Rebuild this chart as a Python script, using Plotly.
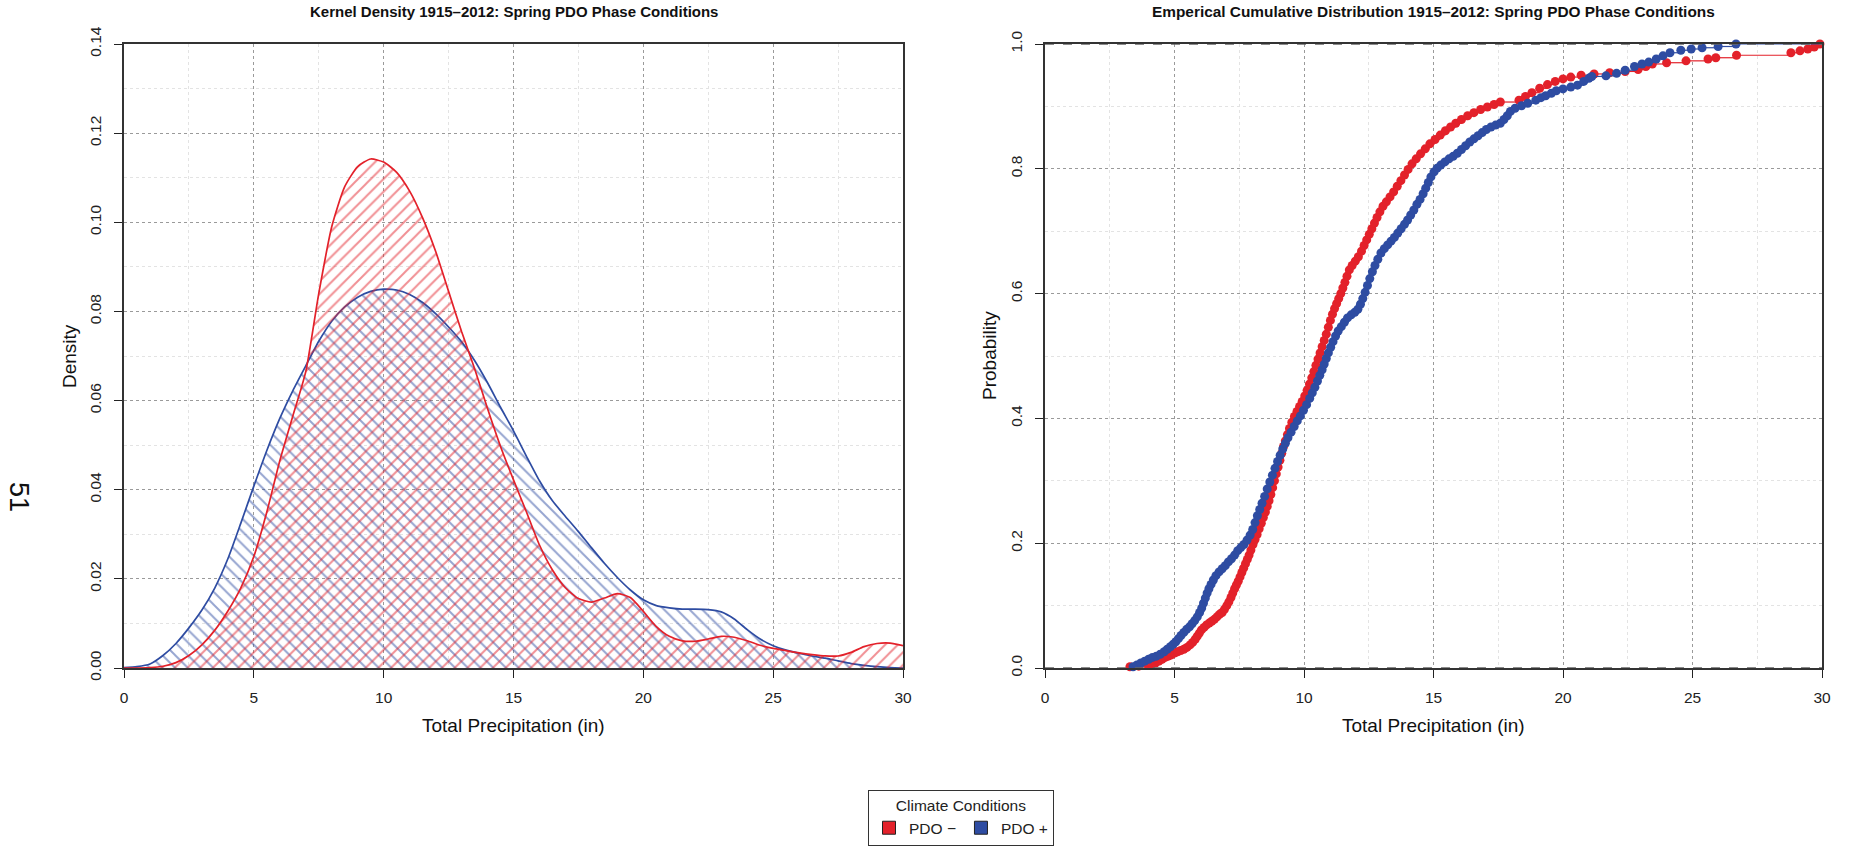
import plotly.graph_objects as go

# ---------------- data ----------------
# Kernel density of total spring precipitation (in)
dens_x = [0, 0.5, 1, 1.5, 2, 2.5, 3, 3.5, 4, 4.5, 5, 5.5, 6, 6.5, 7, 7.5, 8, 8.5, 9, 9.5,
          10, 10.5, 11, 11.5, 12, 12.5, 13, 13.5, 14, 14.5, 15, 15.5, 16, 16.5, 17, 17.5,
          18, 18.5, 19, 19.5, 20, 20.5, 21, 21.5, 22, 22.5, 23, 23.5, 24, 24.5, 25, 25.5,
          26, 26.5, 27, 27.5, 28, 28.5, 29, 29.5, 30]
dens_neg = [0.0, 0.0, 0.0001, 0.0004, 0.0012, 0.0028, 0.0052, 0.0085, 0.0128, 0.0180,
            0.0250, 0.0350, 0.0465, 0.0565, 0.0665, 0.0840, 0.0990, 0.1080, 0.1125, 0.1142,
            0.1135, 0.1112, 0.1070, 0.1010, 0.0935, 0.0845, 0.0755, 0.0672, 0.0582, 0.0497,
            0.0422, 0.0350, 0.0276, 0.0220, 0.0180, 0.0156, 0.0148, 0.0157, 0.0167, 0.0158,
            0.0127, 0.0093, 0.0071, 0.0061, 0.0060, 0.0065, 0.0071, 0.0069, 0.0061, 0.0051,
            0.0044, 0.0039, 0.0034, 0.0030, 0.0027, 0.0027, 0.0035, 0.0048, 0.0055, 0.0056,
            0.0050]
dens_pos = [0.0001, 0.0003, 0.0009, 0.0028, 0.0055, 0.0090, 0.0130, 0.0180, 0.0245, 0.0325,
            0.0408, 0.0488, 0.0560, 0.0622, 0.0678, 0.0733, 0.0778, 0.0810, 0.0832, 0.0845,
            0.0850, 0.0848, 0.0838, 0.0820, 0.0795, 0.0765, 0.0732, 0.0690, 0.0640, 0.0585,
            0.0532, 0.0475, 0.0420, 0.0375, 0.0340, 0.0306, 0.0270, 0.0235, 0.0203, 0.0175,
            0.0153, 0.0140, 0.0135, 0.0132, 0.0132, 0.0131, 0.0126, 0.0110, 0.0086, 0.0065,
            0.0050, 0.0040, 0.0033, 0.0027, 0.0022, 0.0016, 0.0010, 0.0006, 0.0003, 0.0001,
            0.0]

# Empirical CDF points (precipitation, cumulative probability)
ecdf_neg = [
    (3.28, 0.002), (3.62, 0.003), (3.98, 0.004), (4.12, 0.006), (4.26, 0.008), (4.40, 0.011),
    (4.52, 0.014), (4.64, 0.017), (4.76, 0.019), (4.88, 0.021), (5.00, 0.024), (5.12, 0.026),
    (5.24, 0.028), (5.36, 0.030), (5.48, 0.033), (5.60, 0.037), (5.70, 0.041), (5.80, 0.046),
    (5.88, 0.051), (5.96, 0.056), (6.04, 0.061), (6.14, 0.065), (6.24, 0.069), (6.34, 0.072),
    (6.44, 0.075), (6.54, 0.078), (6.64, 0.082), (6.74, 0.086), (6.84, 0.089), (6.93, 0.094),
    (7.02, 0.100), (7.10, 0.106), (7.18, 0.113), (7.25, 0.120), (7.32, 0.127), (7.39, 0.133),
    (7.46, 0.139), (7.53, 0.146), (7.60, 0.153), (7.67, 0.160), (7.74, 0.167), (7.81, 0.174),
    (7.88, 0.181), (7.95, 0.189), (8.03, 0.198), (8.11, 0.206), (8.19, 0.214), (8.27, 0.223),
    (8.35, 0.232), (8.43, 0.241), (8.51, 0.250), (8.58, 0.259), (8.65, 0.268), (8.72, 0.278),
    (8.79, 0.289), (8.86, 0.300), (8.93, 0.311), (9.00, 0.322), (9.07, 0.333), (9.14, 0.344),
    (9.21, 0.355), (9.28, 0.364), (9.36, 0.374), (9.44, 0.384), (9.53, 0.394), (9.63, 0.403),
    (9.73, 0.411), (9.83, 0.419), (9.93, 0.427), (10.03, 0.436), (10.12, 0.445), (10.21, 0.455),
    (10.30, 0.465), (10.38, 0.475), (10.46, 0.485), (10.54, 0.495), (10.62, 0.505), (10.70, 0.515),
    (10.78, 0.525), (10.86, 0.535), (10.94, 0.546), (11.02, 0.557), (11.10, 0.567), (11.18, 0.576),
    (11.26, 0.584), (11.34, 0.592), (11.42, 0.600), (11.50, 0.609), (11.58, 0.618), (11.66, 0.628),
    (11.75, 0.638), (11.86, 0.645), (11.98, 0.652), (12.10, 0.659), (12.22, 0.668), (12.32, 0.677),
    (12.42, 0.686), (12.52, 0.695), (12.62, 0.704), (12.72, 0.713), (12.82, 0.722), (12.93, 0.731),
    (13.05, 0.740), (13.18, 0.747), (13.32, 0.755), (13.46, 0.763), (13.60, 0.772), (13.74, 0.781),
    (13.88, 0.790), (14.02, 0.799), (14.17, 0.808), (14.33, 0.816), (14.50, 0.824), (14.68, 0.832),
    (14.86, 0.840), (15.06, 0.847), (15.26, 0.854), (15.46, 0.861), (15.66, 0.867), (15.86, 0.873),
    (16.08, 0.879), (16.32, 0.885), (16.56, 0.890), (16.82, 0.895), (17.08, 0.899), (17.34, 0.903),
    (17.58, 0.907), (18.30, 0.910), (18.55, 0.916), (18.80, 0.922), (19.10, 0.929), (19.40, 0.935),
    (19.70, 0.940), (20.00, 0.944), (20.30, 0.947), (20.70, 0.950), (21.20, 0.952), (21.80, 0.954),
    (22.40, 0.956), (22.90, 0.959), (23.20, 0.964), (23.45, 0.968), (24.00, 0.970), (24.75, 0.973),
    (25.60, 0.976), (25.90, 0.978), (26.70, 0.982), (28.80, 0.986), (29.15, 0.989), (29.45, 0.992),
    (29.70, 0.995), (29.92, 1.000),
]
ecdf_pos = [
    (3.40, 0.002), (3.55, 0.005), (3.70, 0.008), (3.85, 0.011), (4.00, 0.014), (4.15, 0.017),
    (4.30, 0.019), (4.45, 0.022), (4.60, 0.026), (4.72, 0.030), (4.84, 0.034), (4.95, 0.038),
    (5.05, 0.042), (5.15, 0.047), (5.25, 0.052), (5.36, 0.057), (5.47, 0.062), (5.58, 0.066),
    (5.68, 0.071), (5.78, 0.076), (5.88, 0.082), (5.97, 0.089), (6.05, 0.096), (6.12, 0.104),
    (6.19, 0.112), (6.26, 0.120), (6.33, 0.127), (6.41, 0.134), (6.50, 0.141), (6.60, 0.148),
    (6.72, 0.154), (6.84, 0.159), (6.96, 0.164), (7.08, 0.170), (7.20, 0.175), (7.32, 0.181),
    (7.44, 0.188), (7.56, 0.193), (7.68, 0.198), (7.80, 0.205), (7.92, 0.213), (8.02, 0.222),
    (8.11, 0.233), (8.20, 0.244), (8.29, 0.254), (8.38, 0.264), (8.48, 0.275), (8.58, 0.287),
    (8.68, 0.298), (8.78, 0.309), (8.88, 0.320), (8.98, 0.331), (9.08, 0.341), (9.18, 0.351),
    (9.28, 0.360), (9.38, 0.369), (9.50, 0.378), (9.62, 0.387), (9.74, 0.396), (9.86, 0.404),
    (9.98, 0.413), (10.10, 0.422), (10.22, 0.432), (10.32, 0.441), (10.42, 0.450), (10.52, 0.460),
    (10.61, 0.469), (10.70, 0.478), (10.78, 0.487), (10.86, 0.496), (10.94, 0.505), (11.03, 0.514),
    (11.12, 0.523), (11.22, 0.532), (11.32, 0.540), (11.44, 0.547), (11.56, 0.554), (11.68, 0.561),
    (11.82, 0.566), (11.96, 0.570), (12.08, 0.575), (12.18, 0.583), (12.27, 0.592), (12.36, 0.602),
    (12.45, 0.613), (12.54, 0.624), (12.64, 0.635), (12.74, 0.645), (12.85, 0.655), (12.97, 0.665),
    (13.10, 0.672), (13.23, 0.678), (13.36, 0.684), (13.49, 0.690), (13.62, 0.697), (13.75, 0.704),
    (13.88, 0.711), (14.00, 0.718), (14.12, 0.726), (14.24, 0.734), (14.36, 0.743), (14.48, 0.751),
    (14.60, 0.760), (14.70, 0.769), (14.80, 0.778), (14.90, 0.787), (15.02, 0.795), (15.14, 0.801),
    (15.28, 0.806), (15.44, 0.811), (15.60, 0.816), (15.76, 0.820), (15.92, 0.825), (16.08, 0.831),
    (16.24, 0.837), (16.40, 0.843), (16.56, 0.848), (16.72, 0.853), (16.88, 0.858), (17.04, 0.863),
    (17.22, 0.867), (17.40, 0.870), (17.58, 0.873), (17.72, 0.879), (17.85, 0.885), (17.97, 0.892),
    (18.15, 0.897), (18.40, 0.901), (18.64, 0.905), (18.95, 0.910), (19.15, 0.914), (19.33, 0.917),
    (19.55, 0.921), (19.74, 0.925), (20.00, 0.928), (20.30, 0.931), (20.56, 0.934), (20.80, 0.940),
    (21.00, 0.945), (21.11, 0.948), (21.66, 0.949), (22.07, 0.953), (22.40, 0.958), (22.76, 0.964),
    (23.05, 0.968), (23.31, 0.971), (23.60, 0.976), (23.86, 0.981), (24.13, 0.986), (24.55, 0.990),
    (24.95, 0.992), (25.37, 0.994), (25.99, 0.996), (26.68, 1.000),
]

series_names = ["PDO \u2212", "PDO +"]
x_ticks = [0, 5, 10, 15, 20, 25, 30]

# ---------------- styling ----------------
RED = "#E3212A"
BLUE = "#2E4CA2"
FONT = "Liberation Sans, Arial, Helvetica, sans-serif"
W, H = 1857, 847

# plot boxes in pixels (left, right, top, bottom)
LEFT_BOX = (124, 903, 44, 668)
RIGHT_BOX = (1045, 1822, 44, 668)


def xdom(box):
    return [box[0] / W, box[1] / W]


def ydom(box):
    return [1 - box[3] / H, 1 - box[2] / H]


fig = go.Figure()

# ---- kernel density panel ----
fig.add_trace(go.Scatter(
    x=dens_x, y=dens_pos, mode="lines", xaxis="x", yaxis="y",
    line=dict(color=BLUE, width=1.7, shape="spline", smoothing=0.6),
    fill="tozeroy", fillcolor="rgba(0,0,0,0)",
    fillpattern=dict(shape="\\", fgcolor=BLUE, bgcolor="rgba(0,0,0,0)", size=9, solidity=0.22),
    showlegend=False, hoverinfo="skip",
))
fig.add_trace(go.Scatter(
    x=dens_x, y=dens_neg, mode="lines", xaxis="x", yaxis="y",
    line=dict(color=RED, width=1.7, shape="spline", smoothing=0.6),
    fill="tozeroy", fillcolor="rgba(0,0,0,0)",
    fillpattern=dict(shape="/", fgcolor=RED, bgcolor="rgba(0,0,0,0)", size=9, solidity=0.22),
    showlegend=False, hoverinfo="skip",
))


# ---- ECDF panel ----
def ecdf_traces(points, color):
    xs = [p[0] for p in points]
    ps = [p[1] for p in points]
    # horizontal step segments (no verticals)
    sx, sy = [], []
    for i in range(len(xs) - 1):
        sx += [xs[i], xs[i + 1], None]
        sy += [ps[i], ps[i], None]
    sx += [xs[-1], 30, None]
    sy += [ps[-1], ps[-1], None]
    seg = go.Scatter(x=sx, y=sy, mode="lines", xaxis="x2", yaxis="y2",
                     line=dict(color=color, width=1.2), showlegend=False,
                     hoverinfo="skip", cliponaxis=False)
    pts = go.Scatter(x=xs, y=ps, mode="markers", xaxis="x2", yaxis="y2",
                     marker=dict(color=color, size=9, line=dict(width=0)),
                     showlegend=False, cliponaxis=False)
    return [seg, pts]


for tr in ecdf_traces(ecdf_neg, RED) + ecdf_traces(ecdf_pos, BLUE):
    fig.add_trace(tr)

# ---- legend entries ----
for name, col in zip(series_names, [RED, BLUE]):
    fig.add_trace(go.Scatter(
        x=[None], y=[None], mode="markers", name=name, xaxis="x2", yaxis="y2",
        marker=dict(symbol="square", size=13, color=col, line=dict(color="#222", width=1)),
        showlegend=True,
    ))

axis_common = dict(
    showline=True, linecolor="#333", linewidth=1.5, mirror=True,
    ticks="outside", ticklen=8, tickcolor="#222", tickwidth=1,
    showgrid=True, gridcolor="#9a9a9a", griddash="dot", gridwidth=1,
    zeroline=False, tickfont=dict(family=FONT, size=15.5, color="#222"),
    ticklabelstandoff=7, fixedrange=True,
)
minor_x = dict(dtick=2.5, showgrid=True, gridcolor="#e3e3e3", griddash="dot", gridwidth=1)

fig.update_layout(
    width=W, height=H,
    margin=dict(l=0, r=0, t=0, b=0, autoexpand=False),
    paper_bgcolor="white", plot_bgcolor="white",
    font=dict(family=FONT, color="#222"),
    xaxis=dict(domain=xdom(LEFT_BOX), range=[0, 30], tickvals=x_ticks, anchor="y",
               minor=minor_x, **axis_common),
    yaxis=dict(domain=ydom(LEFT_BOX), range=[0, 0.14], dtick=0.02, tick0=0, tickformat=".2f",
               tickangle=-90, anchor="x",
               minor=dict(dtick=0.01, showgrid=True, gridcolor="#e3e3e3", griddash="dot"),
               **axis_common),
    xaxis2=dict(domain=xdom(RIGHT_BOX), range=[0, 30], tickvals=x_ticks, anchor="y2",
                minor=minor_x, **axis_common),
    yaxis2=dict(domain=ydom(RIGHT_BOX), range=[0, 1], dtick=0.2, tick0=0, tickformat=".1f",
                tickangle=-90, anchor="x2",
                minor=dict(dtick=0.1, showgrid=True, gridcolor="#e3e3e3", griddash="dot"),
                **axis_common),
    legend=dict(
        orientation="h", x=868 / W, xanchor="left", y=1 - 790 / H, yanchor="top",
        title=dict(text="Climate Conditions", side="top center",
                   font=dict(family=FONT, size=15.5, color="#222")),
        font=dict(family=FONT, size=15.5, color="#222"),
        bordercolor="#333", borderwidth=1, bgcolor="white",
    ),
    shapes=[
        dict(type="line", xref="x2 domain", yref="y2", x0=0, x1=1, y0=v, y1=v,
             line=dict(color="#666", width=1.5, dash="dash"), layer="above")
        for v in (0, 1)
    ],
)

# ---- text: titles, axis titles, page number ----
ann = []


def text(x, y, s, size, bold=False, angle=0):
    ann.append(dict(x=x / W, y=1 - y / H, xref="paper", yref="paper",
                    text=f"<b>{s}</b>" if bold else s,
                    showarrow=False, textangle=angle, xanchor="center", yanchor="middle",
                    font=dict(family=FONT, size=size, color="#111")))


text((LEFT_BOX[0] + LEFT_BOX[1]) / 2, 12, "Kernel Density 1915\u20132012: Spring PDO Phase Conditions", 15, bold=True)
text((RIGHT_BOX[0] + RIGHT_BOX[1]) / 2, 12,
     "Emperical Cumulative Distribution 1915\u20132012: Spring PDO Phase Conditions", 15.4, bold=True)
text((LEFT_BOX[0] + LEFT_BOX[1]) / 2, 725, "Total Precipitation (in)", 19)
text((RIGHT_BOX[0] + RIGHT_BOX[1]) / 2, 725, "Total Precipitation (in)", 19)
text(69, 356, "Density", 19, angle=-90)
text(989, 356, "Probability", 19, angle=-90)
text(19, 497, "51", 27, angle=90)
fig.update_layout(annotations=ann)

fig.write_html("out.html")
